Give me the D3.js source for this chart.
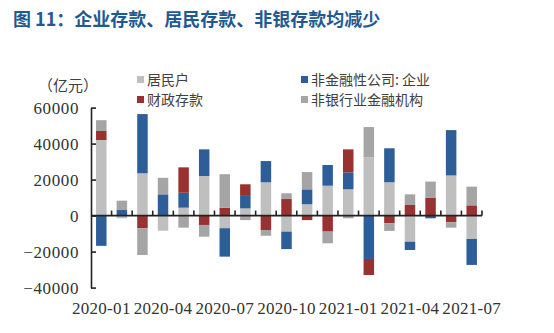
<!DOCTYPE html>
<html><head><meta charset="utf-8">
<script src="https://cdn.jsdelivr.net/npm/d3@7"></script>
<style>
html,body{margin:0;padding:0;background:#fff;}
svg{display:block;}
</style></head>
<body>
<svg id="chart" width="554" height="333"></svg>
<script>
const categories = ["2020-01","2020-02","2020-03","2020-04","2020-05","2020-06","2020-07","2020-08","2020-09","2020-10","2020-11","2020-12","2021-01","2021-02","2021-03","2021-04","2021-05","2021-06","2021-07"];
const household = [42000,-1500,23500,-8400,4400,22000,-7000,4000,18500,-8900,6300,16600,14600,32400,18500,-14500,300,22300,-13000];
const corporate = [-16800,3100,32900,11800,8300,14800,-15800,7400,11800,-9700,8300,11500,9400,-24100,18900,-4600,-1500,25200,-14400];
const fiscal = [5000,0,-7000,0,14100,-5200,4400,6000,-8000,9200,-2500,-8900,12800,-8900,-4300,5900,9700,-3700,5700];
const nonbank = [6000,5200,-14900,9200,-6700,-6500,18600,-2500,-3200,3200,9600,-6500,-1500,16800,-4200,5900,8900,-3000,10400];
const seriesNames = ["居民户","非金融性公司: 企业","财政存款","非银行业金融机构"];
const seriesColors = ["#bfbfbf","#2e5e97","#9a3131","#a5a5a5"];
const yTicks = [-40000,-20000,0,20000,40000,60000];
const xLabelCats = ["2020-01","2020-04","2020-07","2020-10","2021-01","2021-04","2021-07"];

const keys = ["household","corporate","fiscal","nonbank"];
const arrays = [household, corporate, fiscal, nonbank];
const table = categories.map((c,i)=>{
  const o = {cat:c};
  keys.forEach((k,j)=>o[k]=arrays[j][i]);
  return o;
});

const svg = d3.select("#chart");
const x = d3.scaleBand().domain(categories).range([91,482]).paddingInner(0.49).paddingOuter(0.245);
const y = d3.scaleLinear().domain([-40000,60000]).range([287.6,107.6]);

const stack = d3.stack().keys(keys).offset(d3.stackOffsetDiverging);
const stacked = stack(table);

// title
svg.append("text").attr("x",13).attr("y",26)
  .attr("font-family","'Noto Sans CJK SC', sans-serif").attr("font-weight","bold")
  .attr("font-size",18).attr("fill","#1f5a92")
  .text("图 11：企业存款、居民存款、非银存款均减少");

// unit
svg.append("text").attr("x",38).attr("y",91)
  .attr("font-family","'Noto Sans CJK SC', sans-serif")
  .attr("font-size",15).attr("fill","#404040")
  .text("（亿元）");

// bars
svg.append("g").selectAll("g").data(stacked).join("g")
  .attr("fill",(d,i)=>seriesColors[i])
  .selectAll("rect").data(d=>d).join("rect")
  .attr("x",d=>x(d.data.cat))
  .attr("width",x.bandwidth())
  .attr("y",d=>y(Math.max(d[0],d[1])))
  .attr("height",d=>Math.abs(y(d[0])-y(d[1])));

// y axis
const yAxis = d3.axisLeft(y).tickValues(yTicks).tickSizeInner(-5).tickSizeOuter(0).tickPadding(12)
  .tickFormat(d3.format("d"));
const gy = svg.append("g").attr("transform","translate(91,0)").call(yAxis);
gy.select(".domain").attr("stroke","#222").attr("stroke-width",1.6);
gy.selectAll(".tick line").attr("stroke","#222").attr("stroke-width",1.6);
gy.selectAll(".tick text").attr("font-family","'Liberation Serif', serif").attr("font-size",17)
  .attr("fill","#333").attr("letter-spacing","0.6px");

// x axis at zero with ticks between categories pointing up
const zeroY = y(0);
const gx = svg.append("g");
gx.append("line").attr("x1",x.range()[0]).attr("x2",x.range()[1]).attr("y1",zeroY).attr("y2",zeroY)
  .attr("stroke","#222").attr("stroke-width",1.6);
const boundaries = d3.range(1, categories.length+1).map(i=>x.range()[0] + i*x.step());
gx.selectAll("line.t").data(boundaries).join("line").attr("class","t")
  .attr("x1",d=>d).attr("x2",d=>d).attr("y1",zeroY).attr("y2",zeroY-5)
  .attr("stroke","#222").attr("stroke-width",1.6);

// x labels at bottom
const xAxis = d3.axisBottom(x).tickValues(xLabelCats).tickSize(0).tickPadding(14);
const gxl = svg.append("g").attr("transform",`translate(0,${y(-40000)})`).call(xAxis);
gxl.select(".domain").remove();
gxl.selectAll(".tick text").attr("font-family","'Liberation Serif', serif").attr("font-size",17)
  .attr("fill","#333").attr("letter-spacing","0.3px");

// legend
const legendPos = [[137,80],[301,80],[137,100],[301,100]];
const lg = svg.append("g").selectAll("g").data(seriesNames).join("g")
  .attr("transform",(d,i)=>`translate(${legendPos[i][0]},${legendPos[i][1]})`);
lg.append("rect").attr("x",0).attr("y",-4).attr("width",7).attr("height",7).attr("fill",(d,i)=>seriesColors[i]);
lg.append("text").attr("x",10).attr("y",0).attr("dy","0.36em")
  .attr("font-family","'Noto Sans CJK SC', sans-serif").attr("font-size",14).attr("fill","#404040")
  .text(d=>d);
</script>
</body></html>
